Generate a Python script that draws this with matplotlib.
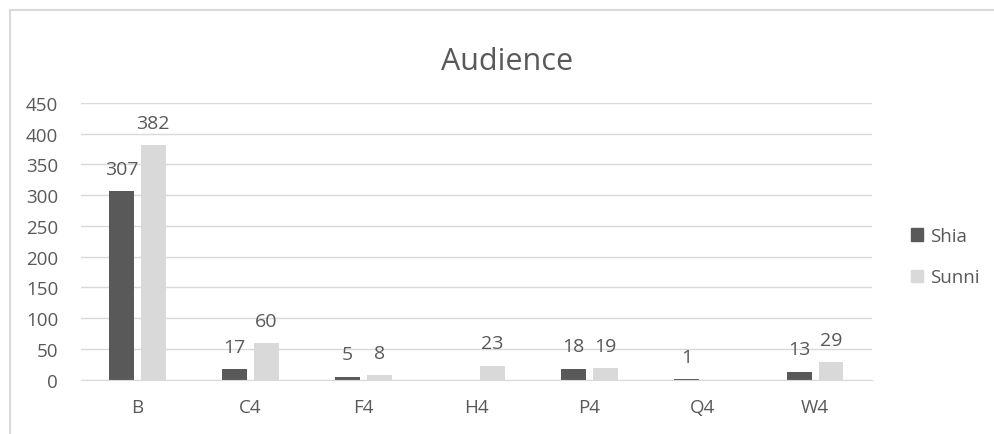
import matplotlib.pyplot as plt
import matplotlib.patches as mpatches
import numpy as np

plt.rcParams['font.family'] = ['Open Sans', 'DejaVu Sans']

# 数据
categories = ['B', 'C4', 'F4', 'H4', 'P4', 'Q4', 'W4']
shia = [307, 17, 5, None, 18, 1, 13]
sunni = [382, 60, 8, 23, 19, None, 29]

text_color = '#595959'
grid_color = '#d9d9d9'

fig = plt.figure(figsize=(9.94, 4.35), dpi=100)
ax = fig.add_axes([0.0815, 0.1248, 0.7955, 0.6362])

x = np.arange(len(categories))
w = 0.22
off = 0.14

def draw(vals, shift, color, name):
    xs = [xi + shift for xi, v in zip(x, vals) if v is not None]
    ys = [v for v in vals if v is not None]
    bars = ax.bar(xs, ys, width=w, color=color, label=name, zorder=3)
    for b, v in zip(bars, ys):
        ax.annotate(str(v), (b.get_x() + b.get_width() / 2, v),
                    xytext=(0, 16), textcoords='offset points',
                    ha='center', va='center', fontsize=14, color=text_color)

draw(shia, -off, '#595959', 'Shia')
draw(sunni, off, '#d9d9d9', 'Sunni')

ax.set_xlim(-0.5, len(categories) - 0.5)
ax.set_ylim(0, 450)
ax.set_yticks(range(0, 451, 50))
ax.set_xticks(x)
ax.set_xticklabels(categories)
ax.yaxis.grid(True, color=grid_color, linewidth=1, zorder=0)
ax.tick_params(axis='both', length=0, labelsize=13.5, colors=text_color)
ax.tick_params(axis='y', pad=16.5)
ax.tick_params(axis='x', pad=13)
for s in ['top', 'right', 'left']:
    ax.spines[s].set_visible(False)
ax.spines['bottom'].set_color(grid_color)
ax.spines['bottom'].set_zorder(4)

fig.text(0.51, 0.857, 'Audience', ha='center', va='center', fontsize=22, color=text_color)

# 图例
handles = [mpatches.Patch(color='#595959', label='Shia'),
           mpatches.Patch(color='#d9d9d9', label='Sunni')]
fig.legend(handles=handles, loc='center left', bbox_to_anchor=(0.8995, 0.4075),
           frameon=False, fontsize=13.5, labelcolor=text_color,
           handlelength=0.65, handleheight=0.65, handletextpad=0.37,
           labelspacing=1.25)

# 外框
fig.patches.append(mpatches.Rectangle((10 / 994, -0.1), 1.1, 1 - 11 / 435 + 0.1,
                                      transform=fig.transFigure, fill=False,
                                      edgecolor=grid_color, linewidth=1.5))

fig.savefig('out.png', dpi=100)
